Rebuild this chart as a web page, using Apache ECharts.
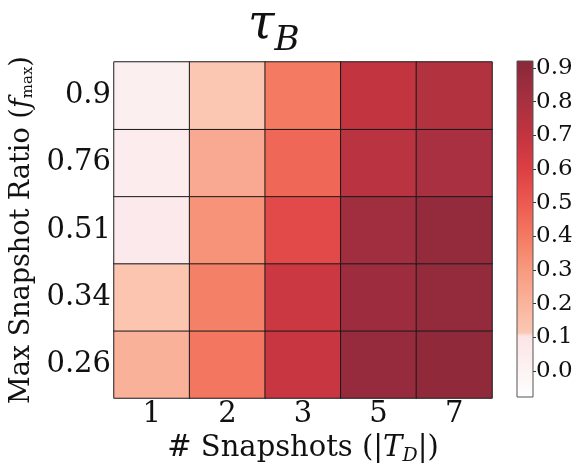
<!DOCTYPE html>
<html>
<head>
<meta charset="utf-8">
<script src="https://cdn.jsdelivr.net/npm/echarts@6/dist/echarts.min.js"></script>
<style>
  html, body { margin: 0; padding: 0; background: #fff; }
  #chart { width: 577px; height: 466px; }
</style>
</head>
<body>
<div id="chart"></div>
<script>
// Snapshot counts (columns) and max snapshot ratios (rows, bottom to top)
const snapshotCounts = ['1', '2', '3', '5', '7'];
const maxRatios = ['0.26', '0.34', '0.51', '0.76', '0.9'];

// tau_B per max ratio, one value per snapshot count
const tauF026 = [0.21, 0.41, 0.68, 0.87, 0.89];
const tauF034 = [0.13, 0.38, 0.66, 0.84, 0.88];
const tauF051 = [0.07, 0.32, 0.56, 0.83, 0.88];
const tauF076 = [0.05, 0.24, 0.46, 0.73, 0.80];
const tauF090 = [0.03, 0.12, 0.40, 0.70, 0.76];

// Colour bar tick labels and range
const cbarTicks = [0.0, 0.1, 0.2, 0.3, 0.4, 0.5, 0.6, 0.7, 0.8, 0.9];
const cbarMin = -0.077;
const cbarMax = 0.921;

const rows = [tauF026, tauF034, tauF051, tauF076, tauF090];

// Colour map anchors (value, colour)
const cmap = [
  [-0.077, '#ffffff'], [0.0, '#fdf3f3'], [0.105, '#fbe4e6'], [0.115, '#fbc8b4'],
  [0.2, '#fab49d'], [0.3, '#f89a7f'], [0.4, '#f47a62'], [0.5, '#ec5a50'],
  [0.6, '#dc3f44'], [0.7, '#c23440'], [0.8, '#a83040'], [0.921, '#88283a']
];

function hexToRgb(h) {
  return [parseInt(h.slice(1, 3), 16), parseInt(h.slice(3, 5), 16), parseInt(h.slice(5, 7), 16)];
}
function colorAt(v) {
  if (v <= cmap[0][0]) return cmap[0][1];
  for (let i = 1; i < cmap.length; i++) {
    if (v <= cmap[i][0]) {
      const [v0, c0] = cmap[i - 1], [v1, c1] = cmap[i];
      const t = (v - v0) / (v1 - v0);
      const a = hexToRgb(c0), b = hexToRgb(c1);
      const c = a.map((x, k) => Math.round(x + (b[k] - x) * t));
      return 'rgb(' + c.join(',') + ')';
    }
  }
  return cmap[cmap.length - 1][1];
}

const steps = 200;
const rampColors = [];
for (let i = 0; i <= steps; i++) rampColors.push(colorAt(cbarMin + (cbarMax - cbarMin) * i / steps));

const gradStops = cmap.map(([v, c]) => ({ offset: (cbarMax - v) / (cbarMax - cbarMin), color: c })).reverse();

const heatData = [];
rows.forEach((r, yi) => r.forEach((v, xi) => heatData.push([xi, yi, v])));

const serif = '"DejaVu Serif", "Liberation Serif", serif';

const chart = echarts.init(document.getElementById('chart'), null, { renderer: 'canvas' });
chart.setOption({
  backgroundColor: '#ffffff',
  animation: false,
  title: {
    text: '{t|τ}{s|B}',
    left: 243,
    top: -3,
    textStyle: {
      fontWeight: 'normal',
      rich: {
        t: { fontFamily: serif, fontStyle: 'italic', fontWeight: 'normal', fontSize: 48, color: '#111', verticalAlign: 'bottom' },
        s: { fontFamily: serif, fontStyle: 'italic', fontWeight: 'normal', fontSize: 34, color: '#111', verticalAlign: 'bottom', padding: [0, 0, -8, 0] }
      }
    }
  },
  grid: [
    { left: 114, top: 62, width: 378, height: 336, outerBoundsMode: 'none', containLabel: false },
    { left: 517, top: 61, width: 16, height: 336, outerBoundsMode: 'none', containLabel: false }
  ],
  xAxis: [
    {
      type: 'category', gridIndex: 0, data: snapshotCounts,
      axisLine: { show: false }, axisTick: { show: false }, splitArea: { show: false },
      axisLabel: { fontFamily: serif, fontSize: 29, color: '#111', margin: 2 },
      name: '{n|# Snapshots (|}{i|T}{sub|D}{n||)}',
      nameLocation: 'middle', nameGap: 27,
      nameTextStyle: {
        rich: {
          n: { fontFamily: serif, fontSize: 29, color: '#111' },
          i: { fontFamily: serif, fontStyle: 'italic', fontSize: 29, color: '#111' },
          sub: { fontFamily: serif, fontStyle: 'italic', fontSize: 19, color: '#111', padding: [15, 0, 0, 0] }
        }
      }
    },
    { type: 'category', gridIndex: 1, data: ['c'], show: false }
  ],
  yAxis: [
    {
      type: 'category', gridIndex: 0, data: maxRatios,
      axisLine: { show: false }, axisTick: { show: false }, splitArea: { show: false },
      axisLabel: { fontFamily: serif, fontSize: 29, color: '#111', margin: 3 },
      name: '{n|Max Snapshot Ratio (}{i|f}{sub|max}{n|)}',
      nameLocation: 'middle', nameGap: 76, nameRotate: 90,
      nameTextStyle: {
        rich: {
          n: { fontFamily: serif, fontSize: 27, color: '#111' },
          i: { fontFamily: serif, fontStyle: 'italic', fontSize: 27, color: '#111' },
          sub: { fontFamily: serif, fontSize: 15, color: '#111', padding: [12, 0, 0, 0] }
        }
      }
    },
    {
      type: 'value', gridIndex: 1, position: 'right', min: cbarMin, max: cbarMax,
      splitLine: { show: false },
      axisLine: { show: false },
      axisTick: { show: true, customValues: cbarTicks, length: 3, lineStyle: { color: '#333' } },
      axisLabel: {
        customValues: cbarTicks, fontFamily: serif, fontSize: 23, color: '#111', margin: 3,
        formatter: v => v.toFixed(1)
      }
    }
  ],
  visualMap: {
    show: false, type: 'continuous', seriesIndex: 0,
    min: cbarMin, max: cbarMax, inRange: { color: rampColors }
  },
  series: [
    {
      type: 'heatmap', xAxisIndex: 0, yAxisIndex: 0, data: heatData,
      itemStyle: { borderColor: '#1a1a1a', borderWidth: 1 },
      emphasis: { disabled: true }
    },
    {
      type: 'custom', xAxisIndex: 1, yAxisIndex: 1,
      data: [[0, cbarMax]],
      renderItem: function (params, api) {
        const top = api.coord([0, cbarMax]);
        const bot = api.coord([0, cbarMin]);
        const w = api.size([1, 0])[0];
        return {
          type: 'rect',
          shape: { x: top[0] - w / 2, y: top[1], width: w, height: bot[1] - top[1] },
          style: {
            fill: new echarts.graphic.LinearGradient(0, 0, 0, 1, gradStops),
            stroke: '#555', lineWidth: 1
          }
        };
      }
    }
  ]
});
</script>
</body>
</html>
